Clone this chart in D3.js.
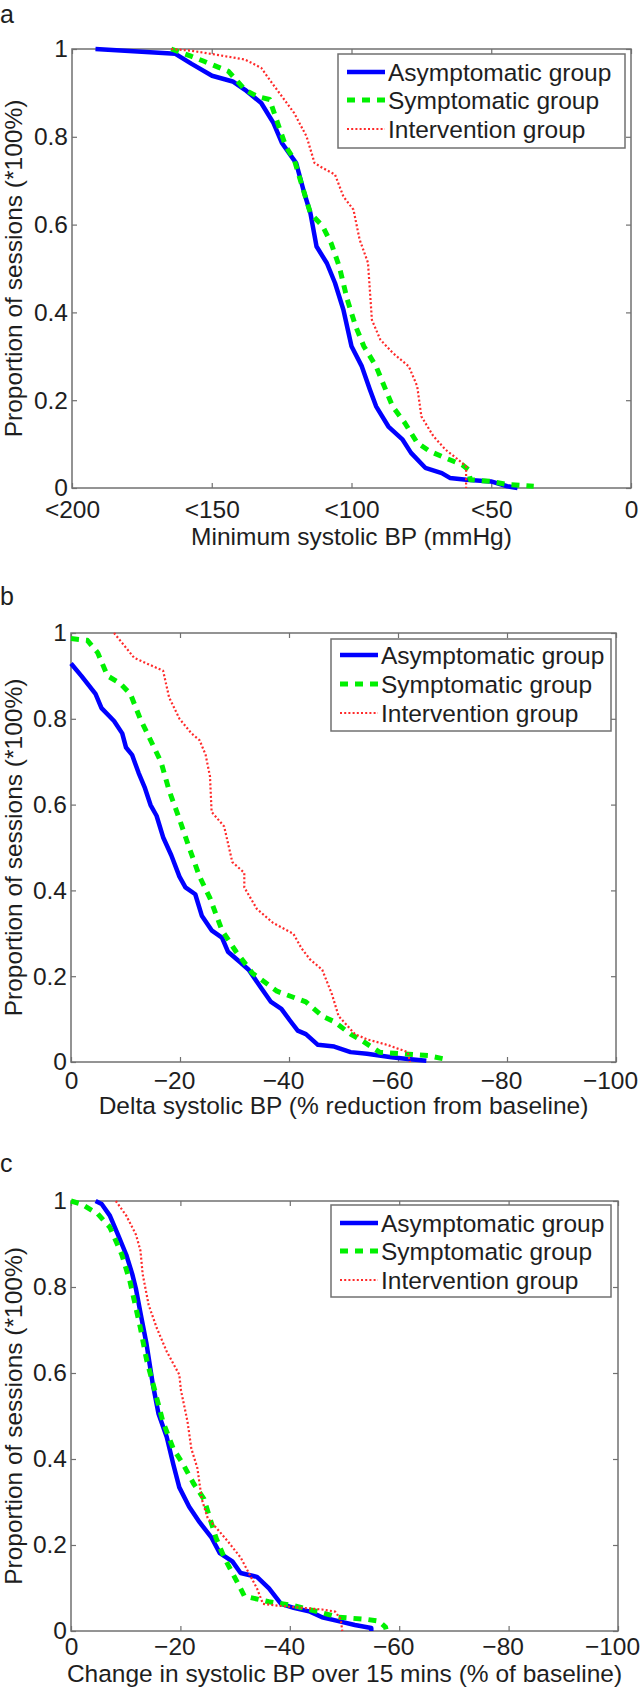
<!DOCTYPE html>
<html>
<head>
<meta charset="utf-8">
<script src="https://cdn.jsdelivr.net/npm/d3@7"></script>
<style>
  html, body { margin: 0; padding: 0; background: #fff; }
  svg { display: block; }
  text { font-family: "Liberation Sans", Arial, Helvetica, sans-serif; fill: #1e1e1e; }
</style>
</head>
<body>
<svg id="chart" width="640" height="1688"></svg>
<script>
// ---------------- DATA ----------------
const seriesNames = ["Asymptomatic group", "Symptomatic group", "Intervention group"];
const yTicks = [0, 0.2, 0.4, 0.6, 0.8, 1];
const yTickLabels = ["0", "0.2", "0.4", "0.6", "0.8", "1"];

// Panel a: minimum systolic BP (mmHg)
const aXTicks = [200, 150, 100, 50, 0];
const aXTickLabels = ["<200", "<150", "<100", "<50", "0"];
const aAsym = [[191.6,1.0],[163,0.989],[157.2,0.966],[149.9,0.939],[142.5,0.926],[138.1,0.907],[132.3,0.877],[127.9,0.831],[124.9,0.786],[119.8,0.740],[116.9,0.672],[114.7,0.626],[112.5,0.550],[108.8,0.512],[105.9,0.467],[102.9,0.406],[100,0.323],[96.3,0.277],[93.4,0.224],[91.2,0.186],[86.8,0.140],[81.7,0.110],[78.7,0.080],[73.6,0.046],[67.7,0.034],[64.8,0.023],[58.9,0.019],[50.1,0.015],[44.3,0.004],[40.6,0]];
const aSymp = [[164.5,1.0],[157.2,0.983],[152.8,0.972],[144,0.949],[138.1,0.907],[133.7,0.892],[129.3,0.885],[126.4,0.831],[123.5,0.778],[120.5,0.748],[116.9,0.672],[114.7,0.626],[110.3,0.596],[107.3,0.558],[104.4,0.505],[101.5,0.429],[98.5,0.368],[95.6,0.323],[91.2,0.277],[88.3,0.232],[85.3,0.186],[80.9,0.148],[76.5,0.103],[72.1,0.084],[66.3,0.068],[60.4,0.053],[58.2,0.042],[57.5,0.019],[50.1,0.015],[44.3,0.008],[34.8,0.004]];
const aInterv = [[164.5,1.0],[157.2,0.996],[148.4,0.987],[138.1,0.976],[132.3,0.957],[129.3,0.93],[124.9,0.892],[120.5,0.854],[116.1,0.801],[113.2,0.740],[110.3,0.729],[105.9,0.714],[102.9,0.664],[99.3,0.634],[97.1,0.566],[94.1,0.513],[92.7,0.383],[89.7,0.338],[85.3,0.308],[79.5,0.277],[76.5,0.232],[75,0.163],[70.7,0.118],[66.3,0.087],[61.9,0.065],[59,0.049],[59,0]];

// Panel b: delta systolic BP (% reduction from baseline)
const bcXTicks = [0, -20, -40, -60, -80, -100];
const bcXTickLabels = ["0", "\u221220", "\u221240", "\u221260", "\u221280", "\u2212100"];
const bAsym = [[0,0.929],[-1.9,0.900],[-4.5,0.858],[-5.6,0.825],[-7.9,0.795],[-9.4,0.766],[-10.1,0.733],[-11.2,0.716],[-12.4,0.674],[-13.5,0.641],[-14.6,0.599],[-15.7,0.574],[-16.9,0.524],[-18.4,0.482],[-19.9,0.432],[-21,0.407],[-22.8,0.391],[-24,0.341],[-25.8,0.307],[-27.7,0.290],[-28.8,0.257],[-31.1,0.232],[-32.6,0.215],[-34.8,0.174],[-36.7,0.140],[-38.6,0.124],[-40.1,0.098],[-41.6,0.073],[-43.1,0.065],[-45.3,0.040],[-48.3,0.036],[-51.3,0.023],[-54.3,0.019],[-58.8,0.011],[-61.8,0.007],[-65.2,0.003]];
const bSymp = [[0,0.987],[-3,0.983],[-4.9,0.954],[-6.7,0.90],[-9,0.883],[-10.9,0.858],[-12.7,0.80],[-14.6,0.750],[-16.5,0.700],[-18,0.633],[-19.9,0.566],[-21.7,0.499],[-23.6,0.432],[-25.5,0.382],[-27.7,0.307],[-30.3,0.257],[-33.3,0.207],[-37.8,0.165],[-43.1,0.140],[-46.1,0.107],[-48.3,0.094],[-51.3,0.065],[-53.6,0.048],[-56.6,0.023],[-61,0.019],[-65.5,0.015],[-69.3,0.005]];
const bInterv = [[-7.9,1.0],[-11.6,0.942],[-14.6,0.925],[-16.9,0.912],[-18,0.850],[-19.9,0.80],[-22.1,0.766],[-23.6,0.750],[-24.7,0.716],[-25.5,0.666],[-25.8,0.583],[-28.1,0.549],[-29.6,0.466],[-31.8,0.441],[-31.8,0.407],[-34.1,0.357],[-37.1,0.324],[-40.8,0.299],[-42.3,0.265],[-43.8,0.240],[-46.1,0.215],[-47.9,0.157],[-49.1,0.107],[-52.1,0.065],[-54.3,0.053],[-58,0.040],[-61.8,0.023],[-62.2,0]];

// Panel c: change in systolic BP over 15 mins (% of baseline)
const cAsym = [[-4.5,1.0],[-5.6,0.993],[-7.1,0.966],[-8.6,0.921],[-10.1,0.875],[-11.2,0.830],[-11.9,0.794],[-12.7,0.740],[-13.8,0.668],[-14.9,0.578],[-16,0.505],[-17.5,0.451],[-18.7,0.388],[-19.8,0.334],[-21.6,0.289],[-23.5,0.253],[-25.7,0.217],[-27.2,0.181],[-29.5,0.162],[-31,0.135],[-34,0.126],[-36.2,0.099],[-38.4,0.063],[-40.7,0.054],[-43.7,0.045],[-45.9,0.032],[-48.9,0.023],[-51.9,0.014],[-54.9,0.007],[-54.9,0]];
const cSymp = [[0,1.0],[-1.9,0.993],[-4.9,0.970],[-7.1,0.939],[-9.3,0.875],[-10.8,0.812],[-12.7,0.704],[-13.8,0.632],[-15.3,0.560],[-16.8,0.487],[-18.7,0.424],[-20.5,0.388],[-22.4,0.343],[-24.3,0.307],[-25.4,0.262],[-26.5,0.217],[-28,0.171],[-29.5,0.135],[-31,0.099],[-31.7,0.081],[-36.2,0.068],[-40.7,0.059],[-45.1,0.045],[-48.9,0.032],[-54.1,0.027],[-56.3,0.023],[-57.5,0.009],[-57.6,0.004]];
const cInterv = [[-8.2,1.0],[-10.1,0.966],[-11.9,0.921],[-12.7,0.884],[-13.1,0.830],[-14.2,0.758],[-15.7,0.704],[-17.5,0.650],[-19.8,0.596],[-20.1,0.560],[-21.3,0.487],[-22,0.424],[-23.1,0.379],[-23.9,0.307],[-25,0.262],[-26.9,0.235],[-28.7,0.208],[-31,0.171],[-32.5,0.135],[-34,0.099],[-35.1,0.063],[-37.7,0.059],[-42.2,0.054],[-45.9,0.050],[-48.3,0.045],[-49.3,0.027],[-49.6,0]];

const panelLabels = ["a", "b", "c"];
const xTitles = ["Minimum systolic BP (mmHg)", "Delta systolic BP (% reduction from baseline)", "Change in systolic BP over 15 mins (% of baseline)"];
const yTitle = "Proportion of sessions (*100%)";

// ---------------- LAYOUT / STYLE ----------------
const styles = [
  {color: "#0000ff", width: 4.5, dash: null},
  {color: "#00f000", width: 5, dash: "8,7"},
  {color: "#ff2a2a", width: 2.2, dash: "2,2.2"}
];
const panels = [
  {label: panelLabels[0], labelY: 23, left: 72, right: 631, top: 49, bottom: 488, xDomain: [200, 0], ticks: aXTicks, tickLabels: aXTickLabels, tickBase: 518, titleBase: 545, title: xTitles[0], data: [aAsym, aSymp, aInterv], legend: {x: 338, y: 54, w: 287, h: 94, rows: [72, 100, 129]}},
  {label: panelLabels[1], labelY: 605, left: 71, right: 616, top: 633, bottom: 1062, xDomain: [0, -100], ticks: bcXTicks, tickLabels: bcXTickLabels, tickBase: 1089, titleBase: 1114, title: xTitles[1], data: [bAsym, bSymp, bInterv], legend: {x: 331, y: 639, w: 280, h: 92, rows: [655, 684, 713]}},
  {label: panelLabels[2], labelY: 1172, left: 71, right: 618, top: 1201, bottom: 1631, xDomain: [0, -100], ticks: bcXTicks, tickLabels: bcXTickLabels, tickBase: 1655, titleBase: 1682, title: xTitles[2], data: [cAsym, cSymp, cInterv], legend: {x: 331, y: 1205, w: 280, h: 92, rows: [1223, 1251, 1280]}}
];

const svg = d3.select("#chart");
const axisColor = "#707070";
const FS = 24.5;

panels.forEach(p => {
  const g = svg.append("g");
  const x = d3.scaleLinear().domain(p.xDomain).range([p.left, p.right]);
  const y = d3.scaleLinear().domain([0, 1]).range([p.bottom, p.top]);

  // panel letter
  g.append("text").attr("x", 0).attr("y", p.labelY).attr("font-size", 25).text(p.label);

  // plot box
  g.append("rect").attr("x", p.left).attr("y", p.top)
    .attr("width", p.right - p.left).attr("height", p.bottom - p.top)
    .attr("fill", "#fff").attr("stroke", axisColor).attr("stroke-width", 1.5);

  // axes (ticks inward)
  const bottomAxis = d3.axisBottom(x).tickValues(p.ticks).tickFormat((d, i) => p.tickLabels[i])
    .tickSizeInner(-5).tickSizeOuter(0).tickPadding(p.tickBase - p.bottom - 0.71 * FS);
  const gb = g.append("g").attr("transform", `translate(0,${p.bottom})`).call(bottomAxis);
  const topAxis = d3.axisTop(x).tickValues(p.ticks).tickFormat("").tickSizeInner(-5).tickSizeOuter(0);
  const gt = g.append("g").attr("transform", `translate(0,${p.top})`).call(topAxis);
  const leftAxis = d3.axisLeft(y).tickValues(yTicks).tickFormat((d, i) => yTickLabels[i])
    .tickSizeInner(-5).tickSizeOuter(0).tickPadding(4);
  const gl = g.append("g").attr("transform", `translate(${p.left},0)`).call(leftAxis);
  const rightAxis = d3.axisRight(y).tickValues(yTicks).tickFormat("").tickSizeInner(-5).tickSizeOuter(0);
  const gr = g.append("g").attr("transform", `translate(${p.right},0)`).call(rightAxis);
  [gb, gt, gl, gr].forEach(a => {
    a.select(".domain").remove();
    a.selectAll(".tick line").attr("stroke", axisColor).attr("stroke-width", 1.2);
    a.selectAll(".tick text").attr("font-size", FS).attr("fill", "#1e1e1e");
    a.attr("font-family", null).attr("font-size", null);
  });
  // negative labels sit slightly left of their ticks, as in the original
  gb.selectAll(".tick text").attr("dx", d => d < 0 ? -6 : 0);

  // curves
  const line = d3.line().x(d => x(d[0])).y(d => y(d[1]));
  p.data.forEach((s, i) => {
    g.append("path").datum(s).attr("d", line)
      .attr("fill", "none").attr("stroke", styles[i].color)
      .attr("stroke-width", styles[i].width)
      .attr("stroke-dasharray", styles[i].dash)
      .attr("stroke-linejoin", "round");
  });

  // x title
  g.append("text").attr("x", (p.left + p.right) / 2).attr("y", p.titleBase)
    .attr("text-anchor", "middle").attr("font-size", FS).text(p.title);
  // y title
  g.append("text").attr("transform", `translate(21.5,${(p.top + p.bottom) / 2}) rotate(-90)`)
    .attr("text-anchor", "middle").attr("font-size", FS).text(yTitle);

  // legend
  const L = p.legend;
  g.append("rect").attr("x", L.x).attr("y", L.y).attr("width", L.w).attr("height", L.h)
    .attr("fill", "#fff").attr("stroke", axisColor).attr("stroke-width", 1.5);
  seriesNames.forEach((name, i) => {
    const cy = L.rows[i];
    g.append("line").attr("x1", L.x + 9).attr("x2", L.x + 47).attr("y1", cy).attr("y2", cy)
      .attr("stroke", styles[i].color).attr("stroke-width", styles[i].width)
      .attr("stroke-dasharray", styles[i].dash);
    g.append("text").attr("x", L.x + 50).attr("y", cy).attr("dy", "0.35em")
      .attr("font-size", FS).text(name);
  });
});
</script>
</body>
</html>
